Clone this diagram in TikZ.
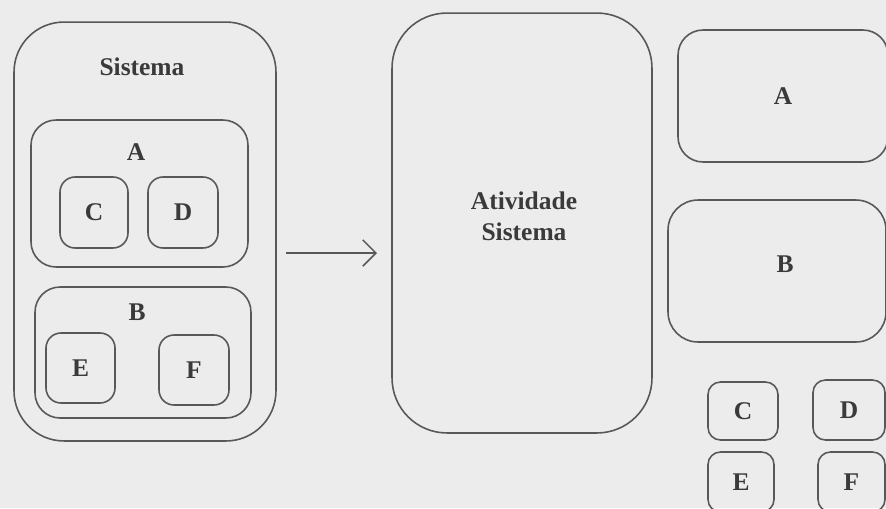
\documentclass[tikz,border=0pt]{standalone}
\usepackage{fontspec}
\setmainfont{Liberation Serif}
\usetikzlibrary{arrows.meta, positioning}
\definecolor{paper}{RGB}{236,236,236}
\definecolor{ink}{RGB}{88,88,88}
\definecolor{txt}{RGB}{58,58,58}

\tikzset{
  box/.style={draw=ink, line width=0.9pt, rectangle, inner sep=0pt},
  lbl/.style={text=txt, font=\fontsize{14.5}{17.5}\selectfont\bfseries, inner sep=0pt},
  flow/.style={draw=ink, line width=0.9pt, -{Straight Barb[length=7.5pt, width=15pt, line width=0.9pt]}},
}

\begin{document}
\begin{tikzpicture}[x=0.02cm, y=-0.02cm]

% page and frame
\useasboundingbox (0,0) rectangle (886,508);
\fill[paper] (0,0) rectangle (886,508);
\clip (0,0) rectangle (886,508);

% Sistema com os seus componentes
\node[box, rounded corners=1cm, minimum width=5.24cm, minimum height=8.38cm] (sis) at (145,231.5) {};
\node[lbl, anchor=base] (sisLbl) at (142,75) {Sistema};

\node[box, rounded corners=0.5cm, minimum width=4.34cm, minimum height=2.94cm] (sisA) at (139.5,193.5) {};
\node[lbl, anchor=base] (sisALbl) at (136,160) {A};
\node[box, lbl, rounded corners=0.3cm, minimum width=1.36cm, minimum height=1.42cm] (sisC) at (94,212.5) {C};
\node[box, lbl, rounded corners=0.3cm, minimum width=1.40cm, minimum height=1.42cm] (sisD) at (183,212.5) {D};

\node[box, rounded corners=0.5cm, minimum width=4.32cm, minimum height=2.62cm] (sisB) at (143,352.5) {};
\node[lbl, anchor=base] (sisBLbl) at (137,320) {B};
\node[box, lbl, rounded corners=0.3cm, minimum width=1.38cm, minimum height=1.40cm] (sisE) at (80.5,368) {E};
\node[box, lbl, rounded corners=0.3cm, minimum width=1.40cm, minimum height=1.40cm] (sisF) at (194,370) {F};

% seta
\coordinate (arrTail) at (286,253);
\coordinate (arrTip) at (377,253);
\draw[flow] (arrTail) -- (arrTip);

% Atividade
\node[box, rounded corners=1.1cm, minimum width=5.2cm, minimum height=8.4cm] (ativ) at (522,223) {};
\node[lbl, align=center] (ativLbl) at (524,216) {Atividade\\Sistema};

% componentes separados
\node[box, lbl, rounded corners=0.5cm, minimum width=4.2cm, minimum height=2.64cm] (parA) at (783,96) {A};
\node[box, rounded corners=0.6cm, minimum width=4.36cm, minimum height=2.84cm] (parB) at (777,271) {};
\node[lbl, anchor=base] (parBLbl) at (785,272) {B};

\node[box, lbl, rounded corners=0.25cm, minimum width=1.40cm, minimum height=1.16cm] (parC) at (743,411) {C};
\node[box, lbl, rounded corners=0.25cm, minimum width=1.44cm, minimum height=1.20cm] (parD) at (849,410) {D};
\node[box, lbl, rounded corners=0.25cm, minimum width=1.32cm, minimum height=1.20cm] (parE) at (741,482) {E};
\node[box, lbl, rounded corners=0.25cm, minimum width=1.34cm, minimum height=1.20cm] (parF) at (851.5,482) {F};

\end{tikzpicture}
\end{document}
